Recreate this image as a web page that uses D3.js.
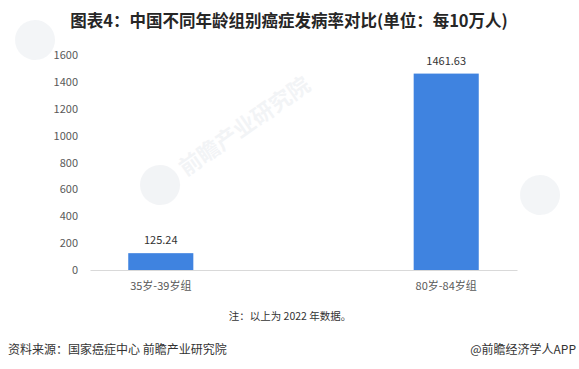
<!DOCTYPE html>
<html>
<head>
<meta charset="utf-8">
<script src="https://cdn.jsdelivr.net/npm/d3@7"></script>
<style>
  body { margin: 0; background: #fff; }
  text { font-family: "Microsoft YaHei", "Noto Sans CJK SC", sans-serif; }
</style>
</head>
<body>
<div id="chart"></div>
<script>
const categories = ["35岁-39岁组", "80岁-84岁组"];
const values = [125.24, 1461.63];
const yTicks = [0, 200, 400, 600, 800, 1000, 1200, 1400, 1600];

const W = 579, H = 369;
const svg = d3.select("#chart").append("svg")
    .attr("width", W)
    .attr("height", H);

// faint watermarks (logo circle, text only on the middle one)
const marks = [[35, 40, false], [160, 185, true], [540, 195, false]];
marks.forEach(([mx, my, withText]) => {
    const g = svg.append("g")
        .attr("transform", `translate(${mx},${my}) rotate(-35)`)
        .attr("opacity", 0.07);
    g.append("circle").attr("r", 20).attr("fill", "#5a6b8c");
    if (withText) {
        g.append("text").text("前瞻产业研究院")
            .attr("x", 26).attr("y", 8)
            .attr("font-size", 22).attr("font-weight", "bold")
            .attr("fill", "#5a6b8c");
    }
});

svg.append("text")
    .text("图表4：中国不同年龄组别癌症发病率对比(单位：每10万人)")
    .attr("x", 289).attr("y", 27)
    .attr("text-anchor", "middle")
    .attr("font-size", 16.5)
    .attr("font-weight", "bold")
    .attr("fill", "#262626");

const x = d3.scaleBand()
    .domain(categories)
    .range([90, 517])
    .paddingInner(0.772)
    .paddingOuter(0.134);

const y = d3.scaleLinear()
    .domain([0, 1600])
    .range([270, 55]);

// y tick labels
svg.append("g")
    .selectAll("text")
    .data(yTicks)
    .join("text")
    .attr("x", 78)
    .attr("y", d => y(d) + 4)
    .attr("text-anchor", "end")
    .attr("font-size", 11)
    .attr("fill", "#595959")
    .text(d => d);

// bars
svg.append("g")
    .selectAll("rect")
    .data(values)
    .join("rect")
    .attr("x", (d, i) => x(categories[i]))
    .attr("y", d => y(d))
    .attr("width", x.bandwidth())
    .attr("height", d => y(0) - y(d))
    .attr("fill", "#3f83e0");

// value labels
svg.append("g")
    .selectAll("text")
    .data(values)
    .join("text")
    .attr("x", (d, i) => x(categories[i]) + x.bandwidth() / 2)
    .attr("y", d => y(d) - 9)
    .attr("text-anchor", "middle")
    .attr("font-size", 11)
    .attr("fill", "#333")
    .text(d => d.toFixed(2));

// x axis
const xAxis = svg.append("g")
    .attr("transform", `translate(0,${y(0)})`)
    .call(d3.axisBottom(x).tickSize(0).tickPadding(12));
xAxis.select(".domain").attr("stroke", "#d9d9d9");
xAxis.selectAll("text")
    .attr("font-size", 11)
    .attr("fill", "#595959")
    .style("font-family", "'Microsoft YaHei', 'Noto Sans CJK SC', sans-serif");

svg.append("text")
    .text("注：以上为 2022 年数据。")
    .attr("x", 290).attr("y", 320)
    .attr("text-anchor", "middle")
    .attr("font-size", 10.5)
    .attr("fill", "#333");

svg.append("text")
    .text("资料来源：国家癌症中心 前瞻产业研究院")
    .attr("x", 8).attr("y", 354)
    .attr("font-size", 12)
    .attr("fill", "#333");

svg.append("text")
    .text("@前瞻经济学人APP")
    .attr("x", 576).attr("y", 354)
    .attr("text-anchor", "end")
    .attr("font-size", 12)
    .attr("fill", "#333");
</script>
</body>
</html>
